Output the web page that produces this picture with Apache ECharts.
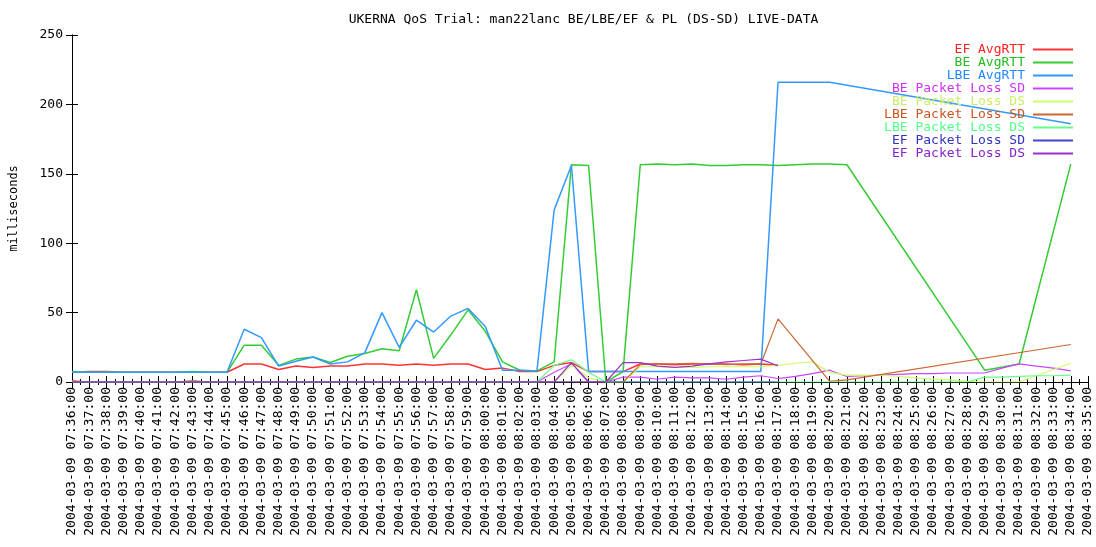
<!DOCTYPE html>
<html>
<head>
<meta charset="utf-8">
<script src="https://cdn.jsdelivr.net/npm/echarts@6/dist/echarts.min.js"></script>
<style>
  html, body { margin: 0; padding: 0; background: #fff; }
  #chart { width: 1096px; height: 547px; }
</style>
</head>
<body>
<div id="chart"></div>
<script>
// tick labels: one per minute, 07:36 .. 08:35
const times = []
for (let m = 36; m < 96; m++) {
  const h = m < 60 ? '07' : '08'
  const mm = String(m % 60).padStart(2, '0')
  times.push('2004-03-09 ' + h + ':' + mm + ':00')
}

const names = [
  'EF AvgRTT', 'BE AvgRTT', 'LBE AvgRTT',
  'BE Packet Loss SD', 'BE Packet Loss DS',
  'LBE Packet Loss SD', 'LBE Packet Loss DS',
  'EF Packet Loss SD', 'EF Packet Loss DS'
]
const colors = ['#ff3333', '#33cc33', '#3399ff', '#cc44ff', '#ccff66', '#cc6633', '#66ff88', '#4444cc', '#9933cc']
const textColors = ['#ff2222', '#22bb22', '#2288ff', '#cc33ee', '#ccee66', '#cc5522', '#55ff88', '#3333bb', '#8822cc']

const N = null
// milliseconds, one value per minute (null = no sample)
const efRtt = [7, 7.5, 7.5, 7, 7, 7, 7, 7, 7, 7,
  13, 13, 9, 11.5, 10.5, 11.5, 11.5, 13, 13, 12,
  13, 12, 13, 13, 9, 10, 7.5, 7.5, 12, 14,
  7.5, 7.5, 7.5, 13, 13, 12.5, 13, 13, 13, 12.5,
  13, 12, N, N, N, N, N, N, N, N,
  N, N, N, N, N, N, N, N, N, N]
const beRtt = [7.5, 7, 7, 7, 7, 7, 7, 7.5, 7, 7,
  26.5, 26.5, 12, 16.5, 18, 14, 18.5, 20.5, 24, 22.5,
  66.5, 17, 34, 52, 36.5, 14.5, 8.5, 8, 14.5, 156.5,
  156, 0, 7.5, 156.5, 157, 156.5, 157, 156, 156, 156.5,
  156.5, 156, 156.5, 157, 157, 156.5, N, N, N, N,
  N, N, N, 8.5, N, 13, N, N, 157, N]
const lbeRtt = [7, 7, 7, 7, 7, 7, 7, 7, 7, 7,
  38, 32, 11.5, 15, 18, 13, 14.5, 21, 50, 25,
  44.5, 36, 47.5, 53, 40, 8.5, 8.5, 8, 124, 156,
  7.5, 7.5, 7.5, 7.5, 7.5, 7.5, 7.5, 7.5, 7.5, 7.5,
  7.5, 216, 216, 216, 216, N, N, N, N, N,
  N, N, N, N, N, N, N, N, 186, N]
const bePlSd = [0, 0, 0, 0, 0, 0, 0, 0, 0, 0,
  0, 0, 0, 0, 0, 0, 0, 0, 0, 0,
  0, 0, 0, 0, 0, 0, 0, 0, 7, 13,
  0, 0, 3.5, 3.5, 2, 3.5, 3, 3, 2, 3.5,
  4.5, 2.5, 4, 6, 8.5, 4, 4.5, 5, 5.5, 6,
  6, 6.5, 6.5, 6.5, 10, 13, 11.5, 10, 8, N]
const bePlDs = [0, 0, 0, 0, 0, 0, 0, 0, 0, 0,
  0, 0, 0, 0, 0, 0, 0, 0, 0, 0,
  0, 0, 0, 0, 0, 0, 0, 0, 0, 12,
  3, 0, 0, 11, 11, 10.5, 10.5, 11, 11, 11,
  11, 12, 13.5, 14.5, 7, 5, 5, 5, 4, 3,
  2, 1.5, 0.5, 0, 0, 0, N, N, 13.5, N]
const lbePlSd = [1, 0, 0, 0, 0, 0, 0, 1, 0, 0,
  0, 0, 0, 0, 0, 0, 0, 0, 0, 0,
  0, 0, 0, 0, 0, 0, 0, 0, 0, 0,
  0, 0, 0, 12.5, 13, 13, 13.5, 13, 12.5, 13,
  13, 45.5, N, N, 0.5, 1.5, N, N, N, N,
  N, N, N, N, N, N, N, N, 27, N]
const lbePlDs = [0, 0, 0, 0, 0, 0, 0, 0, 0, 0,
  0, 0, 0, 0, 0, 0, 0, 0, 0, 0,
  0, 0, 0, 0, 0, 0, 0, 0, 12, 16,
  7, 0, 0, 0, 0, 0, 0, 0, 0, 0,
  0, 0, 0, 0, 0, 0, 0, 0, 0, 0,
  0, 0, 0, 3.5, 3.5, 4, 4.5, 4.5, 5, N]
const efPlSd = [0, 0, 0, 0, 0, 0, 0, 0, 0, 0,
  0, 0, 0, 0, 0, 0, 0, 0, 0, 0,
  0, 0, 0, 0, 0, 0, 0, 0, 0, 0,
  0, 0, 0, 0, 0, 0, 0, 0, 0, 0,
  0, 0, N, N, N, N, N, N, N, N,
  N, N, N, N, N, N, N, N, N, N]
const efPlDs = [0, 0, 0, 0, 0, 0, 0, 0, 0, 0,
  0, 0, 0, 0, 0, 0, 0, 0, 0, 0,
  0, 0, 0, 0, 0, 0, 0, 0, 0, 14,
  0, 0, 14, 14, 11.5, 10.5, 11.5, 13, 14.5, 15.5,
  16.5, 11.5, N, N, N, N, N, N, N, N,
  N, N, N, N, N, N, N, N, N, N]

const allData = [efRtt, beRtt, lbeRtt, bePlSd, bePlDs, lbePlSd, lbePlDs, efPlSd, efPlDs]

const font = 'DejaVu Sans Mono'
const gridLeft = 69, gridRight = 8

const chart = echarts.init(document.getElementById('chart'))

// keep only the minutes that have a sample
function pairs(arr) {
  const out = []
  arr.forEach((v, i) => { if (v !== null) out.push([i, v]) })
  return out
}

const xCommon = {
  type: 'value',
  min: 0,
  max: times.length - 1,
  interval: 1,
  axisLine: { lineStyle: { color: '#000', width: 1 } },
  axisTick: { inside: true, length: 6, lineStyle: { color: '#000' } },
  minorTick: { show: true, splitNumber: 2, length: 3, lineStyle: { color: '#000' } },
  splitLine: { show: false }
}
const yCommon = {
  type: 'value',
  min: 0,
  max: 250,
  interval: 50,
  axisLine: { show: true, lineStyle: { color: '#000', width: 1 } },
  axisTick: { show: true, inside: true, length: 6, lineStyle: { color: '#000' } },
  splitLine: { show: false }
}

const option = {
  animation: false,
  backgroundColor: '#fff',
  textStyle: { fontFamily: font },
  title: {
    text: 'UKERNA QoS Trial: man22lanc BE/LBE/EF & PL (DS-SD) LIVE-DATA',
    left: gridLeft + (1096 - gridLeft - gridRight) / 2,
    textAlign: 'center',
    top: 8,
    textStyle: { fontFamily: font, fontSize: 13, fontWeight: 'normal', color: '#000' }
  },
  legend: {
    orient: 'vertical',
    right: 18,
    top: 38,
    align: 'right',
    itemWidth: 40,
    itemHeight: 2,
    itemGap: 0,
    icon: 'rect',
    selectedMode: false,
    textStyle: { fontFamily: font, fontSize: 13, lineHeight: 13, padding: [0, 3, 0, 0] },
    data: names.map((n, i) => ({ name: n, textStyle: { color: textColors[i] } }))
  },
  grid: { left: gridLeft, right: gridRight, top: 35, bottom: 165, containLabel: false },
  xAxis: [
    Object.assign({}, xCommon, {
      position: 'bottom',
      axisLabel: {
        rotate: 90,
        margin: 5,
        fontFamily: font,
        fontSize: 13,
        color: '#000',
        formatter: v => times[v] || ''
      }
    }),
    Object.assign({}, xCommon, { position: 'top', axisLabel: { show: false } })
  ],
  yAxis: [
    Object.assign({}, yCommon, {
      position: 'left',
      name: 'milliseconds',
      nameLocation: 'middle',
      nameGap: 52,
      nameTextStyle: { fontFamily: font, fontSize: 12, color: '#000' },
      axisLabel: { margin: 9, fontFamily: font, fontSize: 13, color: '#000' }
    }),
    Object.assign({}, yCommon, { position: 'right', axisLabel: { show: false } })
  ],
  series: names.map((n, i) => ({
    name: n,
    type: 'line',
    xAxisIndex: 0,
    yAxisIndex: 0,
    data: pairs(allData[i]),
    symbol: 'none',
    color: colors[i],
    lineStyle: { width: i < 3 ? 1.5 : 1.2, color: colors[i] }
  }))
}

chart.setOption(option)
</script>
</body>
</html>
